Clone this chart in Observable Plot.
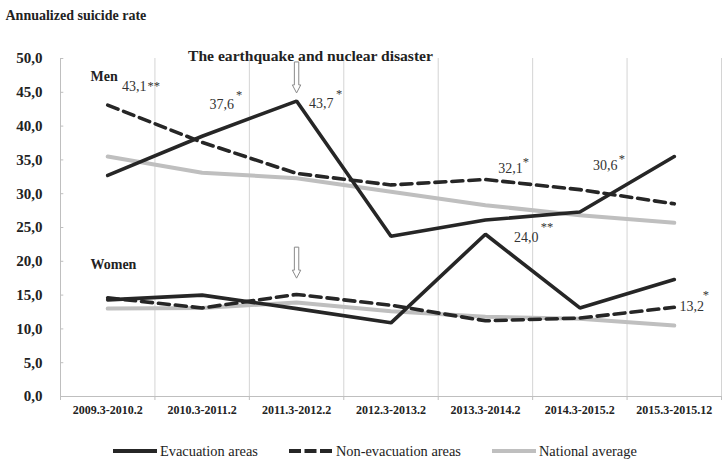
<!DOCTYPE html>
<html>
<head>
<meta charset="utf-8">
<script src="https://cdn.jsdelivr.net/npm/d3@7"></script>
<script src="https://cdn.jsdelivr.net/npm/@observablehq/plot@0.6"></script>
<style>
  html, body { margin: 0; padding: 0; background: #fff; }
  body { width: 726px; height: 464px; position: relative; overflow: hidden; font-family: "Liberation Serif", "DejaVu Serif", "Times New Roman", serif; }
  #chart svg { display: block; font-family: "Liberation Serif", "DejaVu Serif", "Times New Roman", serif; }
  #legend { position: absolute; left: 113px; top: 443px; height: 16px; display: flex; align-items: center; font-size: 14.4px; color: #222; white-space: nowrap; }
  #legend .item { display: flex; align-items: center; margin-right: 31px; }
  #legend svg { display: block; margin-right: 3px; }
</style>
</head>
<body>
<div id="chart"></div>
<div id="legend"></div>
<script>
// ---- data ----
const periods = ["2009.3-2010.2", "2010.3-2011.2", "2011.3-2012.2", "2012.3-2013.2", "2013.3-2014.2", "2014.3-2015.2", "2015.3-2015.12"];
const menEvac        = [32.7, 38.5, 43.7, 23.7, 26.1, 27.3, 35.5];
const menNonEvac     = [43.1, 37.6, 33.0, 31.3, 32.1, 30.6, 28.5];
const menNational    = [35.5, 33.1, 32.3, 30.3, 28.3, 26.8, 25.7];
const womenEvac      = [14.3, 15.0, 13.0, 10.9, 24.0, 13.1, 17.3];
const womenNonEvac   = [14.6, 13.1, 15.1, 13.5, 11.2, 11.6, 13.2];
const womenNational  = [13.0, 13.1, 13.9, 12.6, 11.8, 11.5, 10.5];
const yTicks = [0, 5, 10, 15, 20, 25, 30, 35, 40, 45, 50];
const seriesNames = ["Evacuation areas", "Non-evacuation areas", "National average"];
const title = "Annualized suicide rate";
const eventLabel = "The earthquake and nuclear disaster";
const groupLabels = ["Men", "Women"];
const groupLabelValues = [47.3, 19.5];
const arrowValues = [47.2, 19.8];
const eventIndex = 2;
// annotations: value label + significance stars
const annLabels = ["43,1", "37,6", "43,7", "32,1", "30,6", "24,0", "13,2"];
const annStars  = ["**", "*", "*", "*", "*", "**", "*"];
const annIndex  = [0, 1, 2, 4, 5, 4, 6];
const annValues = [43.1, 37.6, 43.7, 32.1, 30.6, 24.0, 13.2];

// ---- build table ----
const rows = [];
function add(arr, series, group) { arr.forEach((v, i) => rows.push({i, v, series, group, key: series + "|" + group})); }
add(menEvac, seriesNames[0], "Men");
add(womenEvac, seriesNames[0], "Women");
add(menNonEvac, seriesNames[1], "Men");
add(womenNonEvac, seriesNames[1], "Women");
add(menNational, seriesNames[2], "Men");
add(womenNational, seriesNames[2], "Women");

const idx = periods.map((_, i) => i);
const bounds = periods.map((_, i) => i + 0.5);
const allBounds = [-0.5, ...bounds];

// styles (offsets for annotations, in px)
const annLabelOff = [[26.5, -19], [19.7, -37.8], [24.8, 2.6], [25, -10.5], [25.4, -24.3], [40.8, 3.5], [17.5, -1.1]];
const annStarOff  = [[46, -19.6], [37, -47.5], [42.5, -6.9], [40.5, -18], [42, -31], [61.5, -6.8], [31.5, -12.1]];

const FONT = '"Liberation Serif", "DejaVu Serif", "Times New Roman", serif';
const BLACK = "#262626", GREY = "#bfbfbf", DASH = "11,6";

const hollowArrow = {
  draw(ctx) {
    ctx.moveTo(-2.2, -15.5);
    ctx.lineTo(2.2, -15.5);
    ctx.lineTo(2.2, 7.5);
    ctx.lineTo(4.2, 7.5);
    ctx.lineTo(0, 15.5);
    ctx.lineTo(-4.2, 7.5);
    ctx.lineTo(-2.2, 7.5);
    ctx.closePath();
  }
};

const annMarks = [];
annLabels.forEach((lab, k) => {
  const d = [{x: annIndex[k], y: annValues[k]}];
  annMarks.push(Plot.text(d, {x: "x", y: "y", text: () => lab, dx: annLabelOff[k][0], dy: annLabelOff[k][1], fontSize: 14, fill: "#333", textAnchor: "middle", fontFamily: FONT}));
  annMarks.push(Plot.text(d, {x: "x", y: "y", text: () => annStars[k], dx: annStarOff[k][0], dy: annStarOff[k][1], fontSize: 12.5, fill: "#333", textAnchor: "middle", fontFamily: FONT}));
});

const chart = Plot.plot({
  width: 726,
  height: 430,
  marginLeft: 60,
  marginRight: 5,
  marginTop: 58,
  marginBottom: 34,
  style: {fontFamily: FONT, background: "#fff"},
  x: {type: "linear", domain: [-0.5, 6.5]},
  y: {type: "linear", domain: [0, 50]},
  marks: [
    // gridlines & frame
    Plot.ruleX(bounds, {y1: 0, y2: 50, stroke: "#d4d4d4", strokeWidth: 1}),
    Plot.ruleX([-0.5], {y1: 0, y2: 50, stroke: GREY, strokeWidth: 1}),
    Plot.ruleY(yTicks, {x1: -0.5, x2: -0.465, stroke: GREY, strokeWidth: 1}),
    Plot.ruleY([0], {stroke: GREY, strokeWidth: 1}),
    Plot.axisX({ticks: allBounds, tickSize: 4, tickFormat: () => "", stroke: GREY, label: null}),
    Plot.axisX({ticks: idx, tickSize: 0, tickPadding: 9, tickFormat: i => periods[i], fontSize: 12, fontWeight: "bold", fill: "#222", label: null, fontFamily: FONT}),
    Plot.axisY({ticks: yTicks, tickSize: 0, tickPadding: 18, tickFormat: d => d.toFixed(1).replace(".", ","), fontSize: 15, fontWeight: "bold", fill: "#222", label: null, fontFamily: FONT}),
    // lines
    Plot.line(rows.filter(d => d.series === seriesNames[2]), {x: "i", y: "v", z: "key", stroke: GREY, strokeWidth: 4, strokeLinejoin: "miter"}),
    Plot.line(rows.filter(d => d.series === seriesNames[1]), {x: "i", y: "v", z: "key", stroke: BLACK, strokeWidth: 3.6, strokeDasharray: DASH, strokeLinejoin: "miter"}),
    Plot.line(rows.filter(d => d.series === seriesNames[0]), {x: "i", y: "v", z: "key", stroke: BLACK, strokeWidth: 3.6, strokeLinejoin: "miter"}),
    // arrows
    Plot.dot(arrowValues, {x: () => eventIndex, y: d => d, symbol: hollowArrow, fill: "white", stroke: "#8a8a8a", strokeWidth: 1}),
    // group labels
    Plot.text(groupLabels, {x: () => -0.5, y: (d, i) => groupLabelValues[i], text: d => d, dx: 30, textAnchor: "start", fontSize: 14, fontWeight: "bold", fill: "#222", fontFamily: FONT}),
    // title & event label
    Plot.text([title], {frameAnchor: "top-left", text: d => d, dx: -55, dy: -48, textAnchor: "start", fontSize: 14, fontWeight: "bold", fill: "#222", fontFamily: FONT}),
    Plot.text([eventLabel], {frameAnchor: "top", text: d => d, dx: -80.5, dy: -9, fontSize: 15.6, fontWeight: "bold", fill: "#222", fontFamily: FONT}),
    ...annMarks
  ]
});
document.getElementById("chart").appendChild(chart);

// legend
const legend = document.getElementById("legend");
const legendStyles = [
  {stroke: BLACK, dash: null},
  {stroke: BLACK, dash: "12,3.5"},
  {stroke: GREY, dash: null}
];
seriesNames.forEach((name, k) => {
  const item = document.createElement("div");
  item.className = "item";
  const st = legendStyles[k];
  item.innerHTML = `<svg width="44" height="8"><line x1="0" y1="4" x2="44" y2="4" stroke="${st.stroke}" stroke-width="4" ${st.dash ? `stroke-dasharray="${st.dash}"` : ""}/></svg><span>${name}</span>`;
  legend.appendChild(item);
});
</script>
</body>
</html>
